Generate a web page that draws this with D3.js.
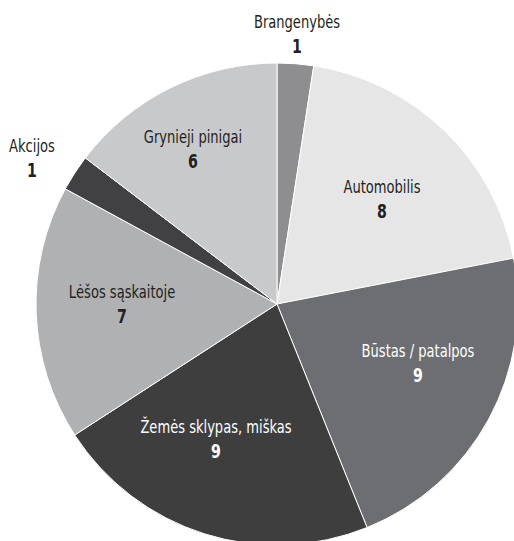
<!DOCTYPE html>
<html>
<head>
<meta charset="utf-8">
<script src="https://cdn.jsdelivr.net/npm/d3@7"></script>
<style>
  body { margin: 0; background: #fff; }
  text { font-family: "DejaVu Sans Condensed", "DejaVu Sans", sans-serif; }
</style>
</head>
<body>
<div id="chart"></div>
<script>
// data
var categories = ["Brangenybės", "Automobilis", "Būstas / patalpos", "Žemės sklypas, miškas", "Lėšos sąskaitoje", "Akcijos", "Grynieji pinigai"];
var values = [1, 8, 9, 9, 7, 1, 6];

var svgWidth = 514;
var svgHeight = 541;

var cx = 277, cy = 304, radius = 241;

// slice fills and label colours
var fills = ["#8e8e90", "#e6e6e7", "#6d6e71", "#3e3e3f", "#b0b1b3", "#414143", "#c8c9cb"];
var textColors = ["#231f20", "#231f20", "#ffffff", "#ffffff", "#231f20", "#231f20", "#231f20"];

// label anchor (name baseline) relative to pie centre
var labelOffsets = [[20, -276], [105, -111], [141, 53], [-61, 129], [-155, -6], [-245, -152], [-84, -161]];

var svg = d3.select("#chart")
  .append("svg")
  .attr("width", svgWidth)
  .attr("height", svgHeight);

var chartGroup = svg.append("g")
  .attr("transform", `translate(${cx}, ${cy})`);

var pie = d3.pie().sort(null).value(d => d);
var arc = d3.arc().innerRadius(0).outerRadius(radius);

var arcs = pie(values);

chartGroup.selectAll("path")
  .data(arcs)
  .enter()
  .append("path")
  .attr("d", arc)
  .attr("fill", (d, i) => fills[i])
  .attr("stroke", "#ffffff")
  .attr("stroke-width", 1);

// condensed look: squeeze text horizontally
var labels = chartGroup.selectAll("g.label")
  .data(arcs)
  .enter()
  .append("g")
  .attr("class", "label")
  .attr("transform", (d, i) => `translate(${labelOffsets[i][0]}, ${labelOffsets[i][1]}) scale(0.83, 1)`);

labels.append("text")
  .attr("text-anchor", "middle")
  .attr("font-size", "17.5px")
  .attr("fill", (d, i) => textColors[i])
  .text((d, i) => categories[i]);

labels.append("text")
  .attr("text-anchor", "middle")
  .attr("y", 25)
  .attr("font-size", "19px")
  .attr("font-weight", "bold")
  .attr("fill", (d, i) => textColors[i])
  .text(d => d.data);
</script>
</body>
</html>
